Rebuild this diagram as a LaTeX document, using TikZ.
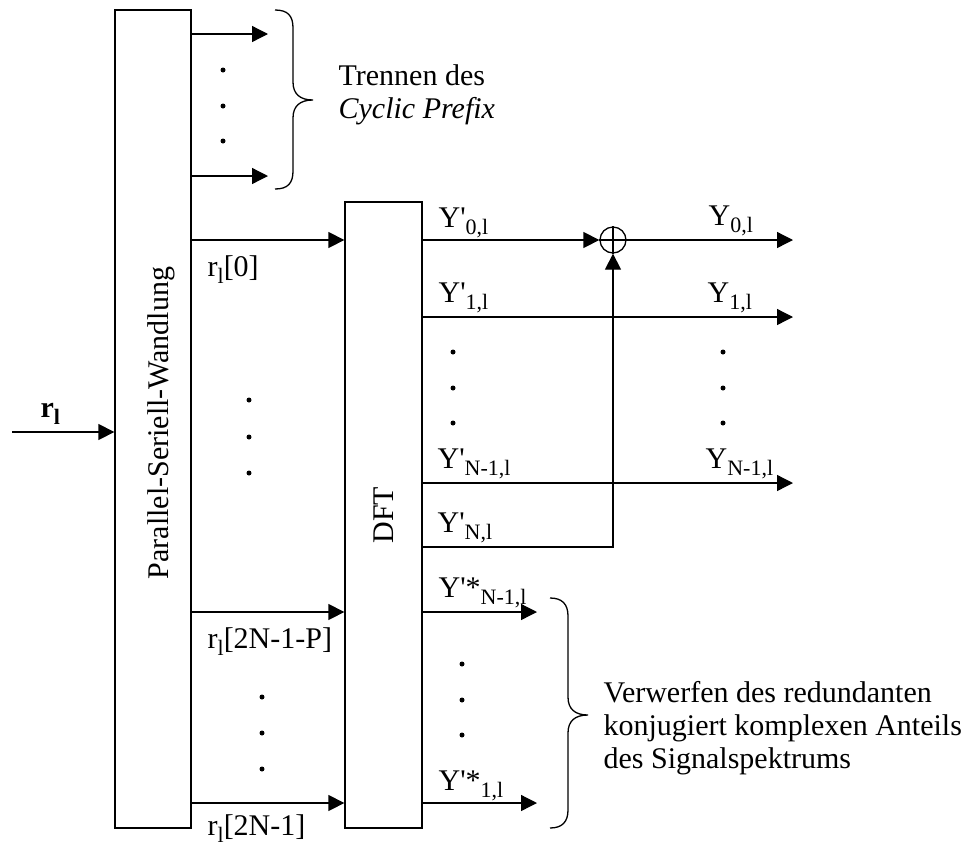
\documentclass[tikz,border=0pt]{standalone}
\usepackage{fontspec}
\setmainfont{Liberation Serif}
\usetikzlibrary{arrows.meta}
\newcommand\lsub[1]{\raisebox{-0.24em}{\fontsize{22}{22}\selectfont #1}}
\newcommand\ap{\textquotesingle}
\begin{document}
\begin{tikzpicture}[x=1pt,y=-1pt,line width=1.3pt,
  arr/.style={-{Triangle[length=16pt,width=16pt]}},
  lbl/.style={anchor=base west,inner sep=0pt,font=\fontsize{30}{33}\selectfont},
  blk/.style={draw,inner sep=0pt},
  txt/.style={inner sep=0pt,font=\fontsize{30}{33}\selectfont},
  dotn/.style={circle,fill,inner sep=0pt,minimum size=5pt},
  brace/.style={line width=1.3pt}]
\useasboundingbox (0,0) rectangle (964,847);

% blocks
\node[blk,minimum width=76pt,minimum height=818pt] (ps) at (153,419) {};
\node[txt,rotate=90] (pstext) at (161,423) {Parallel-Seriell-Wandlung};
\node[blk,minimum width=77pt,minimum height=626pt] (dft) at (383.5,515) {};
\node[txt,rotate=90] (dfttext) at (384,515) {DFT};
\node[circle,draw,minimum size=26pt,inner sep=0pt] (sum) at (613,240) {};
\draw (sum.north) -- (sum.south);
\draw (sum.west) -- (sum.east);

% input
\coordinate (in) at (12,432);
\draw[arr] (in) -- (ps.west |- in);
\node[lbl] (rl) at (40,417) {\textbf{r\lsub{l}}};

% cyclic prefix outputs
\coordinate (cp1) at (268,34);
\coordinate (cp2) at (268,176);
\draw[arr] (ps.east |- cp1) -- (cp1);
\draw[arr] (ps.east |- cp2) -- (cp2);
\node[dotn] (d1) at (223,70) {};
\node[dotn] (d2) at (223,106) {};
\node[dotn] (d3) at (223,141) {};
\draw[brace] (275,10) .. controls (288,10) and (293,16) .. (293,28) -- (293,82)
  .. controls (293,94) and (300,100) .. (313,100)
  .. controls (300,100) and (293,106) .. (293,118) -- (293,171)
  .. controls (293,183) and (288,189) .. (275,189);
\node[lbl] (tr1) at (338,85) {Trennen des};
\node[lbl] (tr2) at (338,118) {\itshape Cyclic Prefix};

% PS -> DFT
\coordinate (a0) at (0,240);
\coordinate (a1) at (0,612);
\coordinate (a2) at (0,803);
\draw[arr] (ps.east |- a0) -- (dft.west |- a0);
\draw[arr] (ps.east |- a1) -- (dft.west |- a1);
\draw[arr] (ps.east |- a2) -- (dft.west |- a2);
\node[lbl] (r0) at (207,276) {r\lsub{l}[0]};
\node[lbl] (r1) at (207,648) {r\lsub{l}[2N-1-P]};
\node[lbl] (r2) at (207,835) {r\lsub{l}[2N-1]};
\node[dotn] (e1) at (249,400) {};
\node[dotn] (e2) at (249,437) {};
\node[dotn] (e3) at (249,473) {};
\node[dotn] (f1) at (262,697) {};
\node[dotn] (f2) at (262,733) {};
\node[dotn] (f3) at (262,769) {};

% DFT outputs
\coordinate (o0) at (793,240);
\coordinate (o1) at (793,317);
\coordinate (o2) at (793,483);
\coordinate (yn) at (0,547);
\draw[arr] (dft.east |- sum) -- (sum.west);
\draw[arr] (sum.east) -- (o0);
\draw[arr] (dft.east |- o1) -- (o1);
\draw[arr] (dft.east |- o2) -- (o2);
\draw[arr] (dft.east |- yn) -| (sum.south);
\node[lbl] (yp0) at (438,227) {Y\ap\lsub{0,l}};
\node[lbl] (yp1) at (438,302) {Y\ap\lsub{1,l}};
\node[lbl] (ypn1) at (437,468) {Y\ap\lsub{N-1,l}};
\node[lbl] (ypn) at (437,532) {Y\ap\lsub{N,l}};
\node[lbl] (y0) at (708,225) {Y\lsub{0,l}};
\node[lbl] (y1) at (707,302) {Y\lsub{1,l}};
\node[lbl] (yn1) at (705,468) {Y\lsub{N-1,l}};
\node[dotn] (g1) at (453,352) {};
\node[dotn] (g2) at (453,388) {};
\node[dotn] (g3) at (453,423) {};
\node[dotn] (h1) at (723,352) {};
\node[dotn] (h2) at (723,388) {};
\node[dotn] (h3) at (723,423) {};

% redundant outputs
\coordinate (c1) at (537,612);
\coordinate (c2) at (537,803);
\draw[arr] (dft.east |- c1) -- (c1);
\draw[arr] (dft.east |- c2) -- (c2);
\node[lbl] (ys1) at (438,597) {Y\ap*\lsub{N-1,l}};
\node[lbl] (ys2) at (438,790) {Y\ap*\lsub{1,l}};
\node[dotn] (k1) at (462,664) {};
\node[dotn] (k2) at (462,700) {};
\node[dotn] (k3) at (462,735) {};
\draw[brace] (550,598) .. controls (562,598) and (568,604) .. (568,616) -- (568,697)
  .. controls (568,709) and (575,715) .. (588,715)
  .. controls (575,715) and (568,721) .. (568,733) -- (568,810)
  .. controls (568,822) and (562,828) .. (550,828);
\node[lbl] (v1) at (603,702) {Verwerfen des redundanten};
\node[lbl] (v2) at (603,735) {konjugiert komplexen Anteils};
\node[lbl] (v3) at (603,768) {des Signalspektrums};
\end{tikzpicture}
\end{document}
